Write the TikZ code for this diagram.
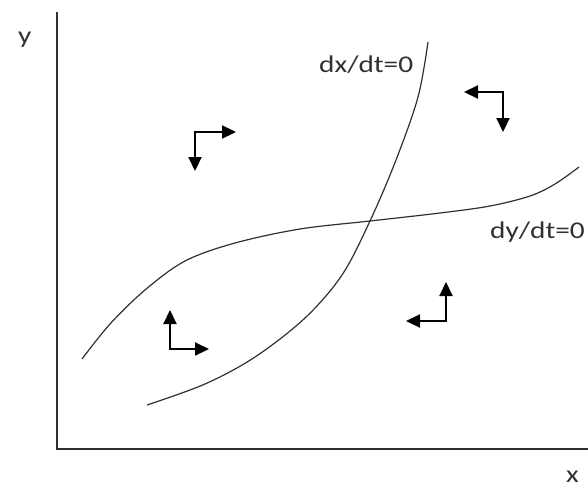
\documentclass[tikz,border=0pt]{standalone}
\usepackage{fontspec}
\usepackage{graphicx}
\setmainfont{Carlito}
\usetikzlibrary{arrows.meta}
\definecolor{ink}{HTML}{303030}
\tikzset{
  axis/.style={line width=1.5pt, draw=ink},
  curve/.style={line width=1.2pt, draw=ink},
  dirarrow/.style={line width=2.2pt, line cap=rect, draw=black, fill=black, -{Triangle[length=14pt,width=13pt]}},
  lbl/.style={inner sep=0pt, anchor=base west, font=\fontsize{24}{28}\selectfont, text=ink}
}
\newcommand{\wide}[1]{\scalebox{1.22}[1]{#1}}
\begin{document}
\begin{tikzpicture}[x=1pt,y=-1pt]
\useasboundingbox (0,0) rectangle (588,488);
% axes
\coordinate (o) at (57,449);
\coordinate (ytop) at (57,12);
\coordinate (xend) at (588,449);
\draw[axis] (ytop) -- (o) -- (xend);
\node[lbl] (ylab) at (18,43) {\wide{y}};
\node[lbl] (xlab) at (566,482) {\wide{x}};
% nullclines
\draw[curve] plot[smooth, tension=0.55] coordinates {(147,405) (205,384) (255,357) (305,318) (342,275) (370,221) (396,160) (418,97) (428,42)};
\draw[curve] plot[smooth, tension=0.55] coordinates {(82,359) (110,324) (145,290) (185,261) (235,243) (300,229) (370,221) (440,213) (490,206) (530,196) (555,184) (579,167)};
\node[lbl] (dxlab) at (319,72) {\wide{dx/dt=0}};
\node[lbl] (dylab) at (490,238) {\wide{dy/dt=0}};
% direction arrows
\coordinate (c1) at (195,132);
\coordinate (c1r) at (236,132);
\coordinate (c1d) at (195,171);
\draw[dirarrow] (c1) -- (c1r);
\draw[dirarrow] (c1) -- (c1d);
\coordinate (c2) at (503,92);
\coordinate (c2l) at (464,92);
\coordinate (c2d) at (503,132);
\draw[dirarrow] (c2) -- (c2l);
\draw[dirarrow] (c2) -- (c2d);
\coordinate (c3) at (170,349);
\coordinate (c3u) at (170,310);
\coordinate (c3r) at (209,349);
\draw[dirarrow] (c3) -- (c3u);
\draw[dirarrow] (c3) -- (c3r);
\coordinate (c4) at (446,321);
\coordinate (c4u) at (446,282);
\coordinate (c4l) at (406,321);
\draw[dirarrow] (c4) -- (c4u);
\draw[dirarrow] (c4) -- (c4l);
\end{tikzpicture}
\end{document}
